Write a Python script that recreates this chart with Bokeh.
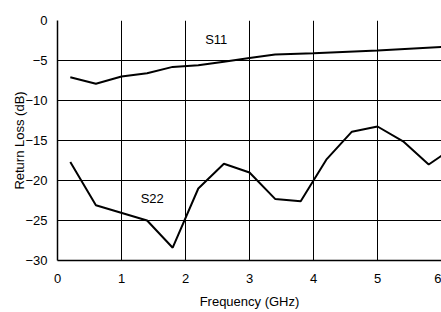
from bokeh.plotting import figure
from bokeh.models import FixedTicker, Range1d, ColumnDataSource
from bokeh.core.properties import value
from bokeh.embed import file_html
from bokeh.resources import INLINE

FONT = "Liberation Sans"

# Data
s11_freq = [0.2, 0.6, 1.0, 1.4, 1.8, 2.2, 2.6, 3.0, 3.4, 4.0, 5.0, 6.0]
s11_db = [-7.1, -7.9, -7.0, -6.6, -5.8, -5.6, -5.15, -4.7, -4.25, -4.1, -3.75, -3.3]

s22_freq = [0.2, 0.6, 1.4, 1.8, 2.2, 2.6, 3.0, 3.4, 3.8, 4.2, 4.6, 5.0, 5.4, 5.8, 6.0]
s22_db = [-17.7, -23.1, -25.0, -28.4, -21.0, -17.9, -19.0, -22.3, -22.6, -17.4, -13.9, -13.25, -15.1, -18.0, -16.9]

x_ticks = [0, 1, 2, 3, 4, 5, 6]
y_ticks = [-30, -25, -20, -15, -10, -5, 0]

label_names = ["S11", "S22"]
label_x = [2.48, 1.48]
label_y = [-2.4, -22.25]

p = figure(frame_width=384, frame_height=240, output_backend="svg", toolbar_location=None,
           x_range=Range1d(0, 6), y_range=Range1d(-30, 0),
           min_border_left=57, min_border_right=0, min_border_top=20, min_border_bottom=50)
p.outline_line_color = None
p.background_fill_color = "white"
p.border_fill_color = "white"

for ax in (p.xaxis[0], p.yaxis[0]):
    ax.axis_line_color = "black"
    ax.axis_line_width = 1.5
    ax.major_tick_line_color = None
    ax.minor_tick_line_color = None
    ax.major_tick_out = 0
    ax.major_tick_in = 0
    ax.major_label_text_font = FONT
    ax.major_label_text_font_size = "13px"
    ax.major_label_text_color = "black"
    ax.axis_label_text_font = FONT
    ax.axis_label_text_font_size = "13px"
    ax.axis_label_text_font_style = "normal"
    ax.axis_label_text_color = "black"

p.xaxis.ticker = FixedTicker(ticks=x_ticks)
p.yaxis.ticker = FixedTicker(ticks=y_ticks)
p.xaxis.axis_label = "Frequency (GHz)"
p.yaxis.axis_label = "Return Loss (dB)"
p.xaxis.major_label_standoff = 13
p.xaxis.axis_label_standoff = 8
p.yaxis.major_label_standoff = 10
p.yaxis.axis_label_standoff = -5

p.xgrid.ticker = FixedTicker(ticks=x_ticks)
p.ygrid.ticker = FixedTicker(ticks=y_ticks)
for g in (p.xgrid[0], p.ygrid[0]):
    g.grid_line_color = "black"
    g.grid_line_width = 1
    g.grid_line_alpha = 1.0

p.line(s11_freq, s11_db, line_color="black", line_width=2)
p.line(s22_freq, s22_db, line_color="black", line_width=2)

src = ColumnDataSource(dict(x=label_x, y=label_y, t=label_names))
p.text(x="x", y="y", text="t", source=src, text_font=value(FONT), text_font_size="13px",
       text_align="center", text_baseline="middle", text_color="black")

open("out.html", "w").write(file_html(p, INLINE))
